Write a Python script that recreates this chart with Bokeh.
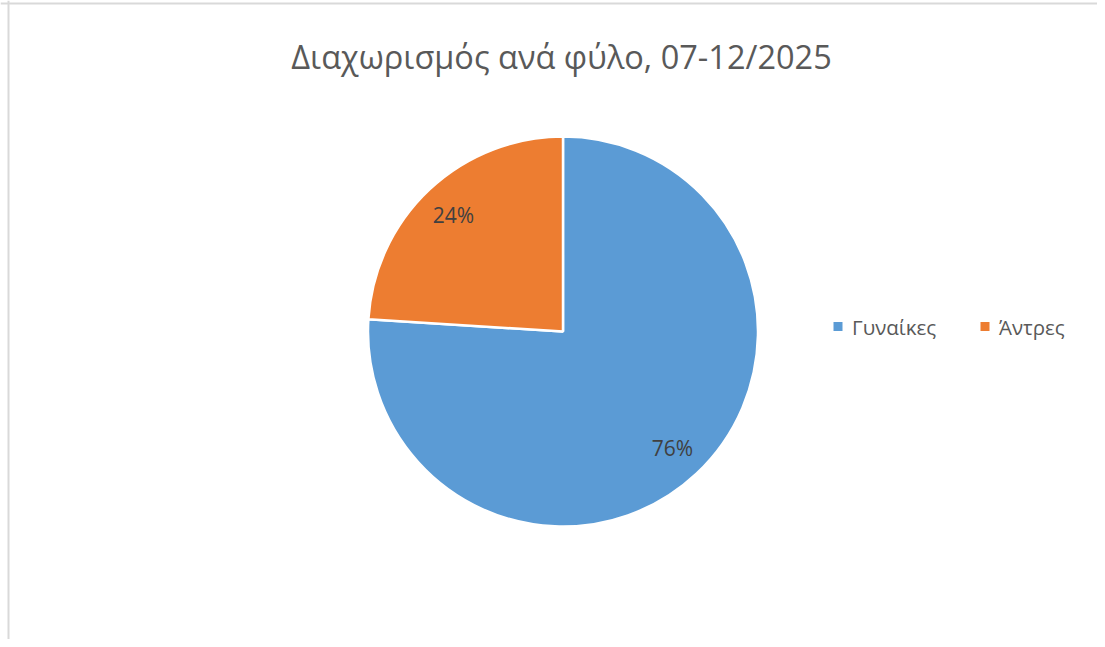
import numpy as np
from bokeh.plotting import figure
from bokeh.models import ColumnDataSource, Range1d, Span
from bokeh.core.properties import value
from bokeh.embed import file_html
from bokeh.resources import INLINE

# ---- data ----
categories = ["Γυναίκες", "Άντρες"]
shares = [76, 24]
colors = ["#5b9bd5", "#ed7d31"]
title_text = "Διαχωρισμός ανά φύλο, 07-12/2025"

W, H = 1097, 639
FONT = "Open Sans"

p = figure(width=W, height=H, output_backend="svg", toolbar_location=None,
           x_range=Range1d(0, W), y_range=Range1d(0, H), min_border=0,
           outline_line_color=None)
p.axis.visible = False
p.grid.visible = False
p.background_fill_color = "white"
p.border_fill_color = "white"

# screen coords (y downward) -> data coords
def px(x):
    return x
def py(y):
    return H - y

cx, cy, R = px(562.5), py(331), 195

vals = np.array(shares, dtype=float)
frac = vals / vals.sum()
cum_end = np.cumsum(frac)
cum_start = cum_end - frac
# Excel-style: start at 12 o'clock, clockwise
start = np.pi / 2 - cum_end * 2 * np.pi
end = np.pi / 2 - cum_start * 2 * np.pi
mid = (start + end) / 2

src = ColumnDataSource(dict(cat=categories, start=start, end=end, color=colors,
                            lx=cx + 0.82 * R * np.cos(mid),
                            ly=cy + 0.82 * R * np.sin(mid),
                            lab=[f"{int(round(f*100))}%" for f in frac]))

p.wedge(x=cx, y=cy, radius=R, start_angle="start", end_angle="end",
        fill_color="color", line_color="white", line_width=2.5, source=src)

p.text(x="lx", y="ly", text="lab", source=src, text_align="center",
       text_baseline="middle", text_font=value(FONT), text_font_size="21px",
       text_color="#404040")

# title
p.text(x=[px(561)], y=[py(56)], text=[title_text], text_align="center",
       text_baseline="alphabetic", text_font=value(FONT), text_font_size="32.5px",
       text_color="#595959")

# legend
leg_x = [px(837.5), px(984.5)]
leg = ColumnDataSource(dict(x=leg_x, tx=[x + 14 for x in leg_x], y=[py(326)] * 2,
                            cat=categories, color=colors))
p.scatter(x="x", y="y", marker="square", size=9, fill_color="color",
          line_color=None, source=leg)
p.text(x="tx", y="y", text="cat", source=leg, text_align="left",
       text_baseline="middle", text_font=value(FONT), text_font_size="20.5px",
       text_color="#595959")

# chart-area frame (left and top edges visible)
p.add_layout(Span(location=px(8), dimension="height", line_color="#d9d9d9", line_width=2))
p.add_layout(Span(location=py(3), dimension="width", line_color="#d9d9d9", line_width=2))

open("out.html", "w").write(file_html(p, INLINE))
